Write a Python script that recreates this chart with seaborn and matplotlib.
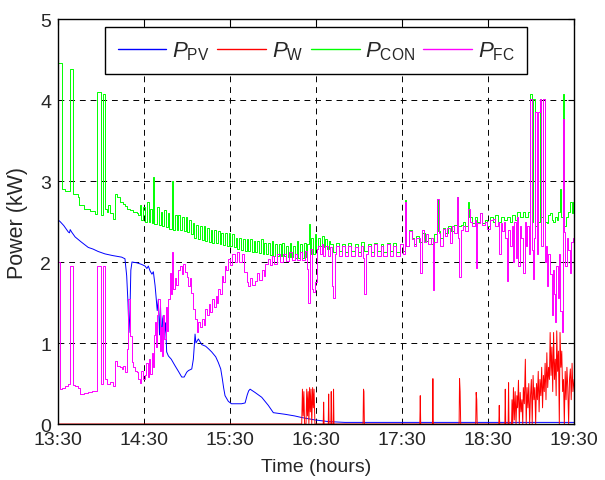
import matplotlib
matplotlib.use("Agg")
import matplotlib.pyplot as plt
import seaborn as sns
import pandas as pd

# time in minutes after 13:30, power in kW
tick_labels = ["13:30", "14:30", "15:30", "16:30", "17:30", "18:30", "19:30"]
tick_minutes = [0, 60, 120, 180, 240, 300, 360]
series_names = [r"$P_{\mathrm{PV}}$", r"$P_{\mathrm{W}}$", r"$P_{\mathrm{CON}}$", r"$P_{\mathrm{FC}}$"]

pv_points = [
    (0, 2.52), (1.4, 2.50), (4, 2.45), (7.2, 2.37), (8, 2.36), (8.5, 2.40), (9.5, 2.37),
    (11.9, 2.31), (16, 2.25), (21.1, 2.18), (24.4, 2.16), (28, 2.13), (32.8, 2.10),
    (38, 2.08), (44.4, 2.06), (46.7, 2.04), (47.9, 1.83), (48.8, 1.5), (49.5, 1.13),
    (50.2, 1.4), (50.8, 1.9), (51.6, 2.0), (55, 1.99), (58.4, 1.97), (60.7, 1.95),
    (62, 1.92), (63, 1.95), (64.2, 1.89), (65.5, 1.85), (66.5, 1.88), (67.7, 1.71),
    (68.5, 1.55), (69.2, 1.40), (70, 1.54), (70.8, 1.10), (71.5, 1.45), (72.3, 1.01),
    (73, 1.3), (73.5, 1.34), (74.2, 1.1), (75, 1.25), (75.8, 0.89), (77, 0.84),
    (79, 0.80), (81.6, 0.72), (84, 0.65), (86.3, 0.58), (88, 0.58), (89.8, 0.64),
    (91, 0.66), (93.3, 0.68), (94.4, 0.80), (95, 0.95), (95.6, 1.11), (96.2, 1.0),
    (97.9, 1.05), (100.3, 0.98), (103, 0.96), (104.9, 0.93), (107.2, 0.89), (110, 0.83),
    (111.8, 0.76), (113.5, 0.68), (114.6, 0.56), (115.5, 0.45), (116.5, 0.35),
    (118.8, 0.28), (121, 0.25), (123.5, 0.25), (128, 0.25), (130.5, 0.26), (132, 0.36),
    (133, 0.41), (134, 0.43), (137.4, 0.39), (142.1, 0.33), (146.7, 0.23), (150.2, 0.14),
    (158.4, 0.12), (165, 0.10), (170, 0.08), (179.3, 0.05), (188.6, 0.03), (200, 0.02),
    (230, 0.02), (260, 0.02), (300, 0.02), (330, 0.02), (360, 0.02),
]

w_points = [
    (0, 0.0), (170, 0.0), (170.5, 0.43), (171, 0.10), (171.5, 0.40), (172, 0.0), (173, 0.0),
    (173.5, 0.43), (174, 0.10), (174.5, 0.40), (175, 0.0), (175.5, 0.45), (176, 0.15),
    (176.5, 0.43), (177, 0.0), (177.6, 0.45), (178.1, 0.20), (178.6, 0.43), (179.2, 0.0),
    (185, 0.0), (185.3, 0.27), (185.6, 0.0), (188.5, 0.0), (188.8, 0.37), (189.1, 0.0),
    (190.3, 0.0), (190.6, 0.40), (190.9, 0.0), (191.9, 0.0), (192.2, 0.43), (192.5, 0.0),
    (212.8, 0.0), (213.1, 0.43), (213.4, 0.40), (213.7, 0.0), (252.4, 0.0), (252.7, 0.35),
    (253, 0.0), (261.2, 0.0), (261.5, 0.56), (261.8, 0.0), (279.8, 0.0), (280.1, 0.56),
    (280.5, 0.40), (280.9, 0.0), (291.4, 0.0), (291.7, 0.39), (292.1, 0.30), (292.4, 0.0),
    (307.5, 0.0), (307.8, 0.23), (308.1, 0.0), (311.7, 0.0), (312, 0.43), (312.3, 0.0),
    (314, 0.0), (314.3, 0.51), (314.6, 0.0), (316.4, 0.0), (316.7, 0.30), (317.2, 0.0),
    (317.7, 0.45), (318.3, 0.05), (318.9, 0.40), (319.5, 0.0), (320.1, 0.35), (320.6, 0.20),
    (321.2, 0.54), (321.8, 0.0), (322.4, 0.39), (323, 0.15), (323.6, 0.30), (324.2, 0.0),
    (324.6, 0.45), (325.3, 0.25), (326, 0.80), (326.6, 0.0), (327.2, 0.45), (327.8, 0.20),
    (328.4, 0.50), (329, 0.0), (329.6, 0.35), (330.2, 0.55), (330.8, 0.0), (331.4, 0.60),
    (332, 0.30), (332.6, 0.45), (333.2, 0.0), (333.8, 0.50), (334.4, 0.30), (335, 0.65),
    (335.6, 0.15), (336.2, 0.55), (336.8, 0.35), (337.4, 0.70), (338, 0.20), (338.6, 0.60),
    (339.2, 0.40), (339.8, 0.75), (340.4, 0.30), (341, 0.88), (341.6, 0.45), (342.2, 0.70),
    (342.8, 0.55), (343.3, 1.13), (343.9, 0.60), (344.5, 0.95), (345.1, 0.40), (345.7, 1.13),
    (346.3, 0.55), (346.9, 0.80), (347.5, 0.35), (347.9, 1.15), (348.5, 0.65), (349.1, 0.90),
    (349.7, 0.0), (350.2, 1.13), (350.8, 0.70), (351.4, 0.90), (352, 0.40), (352.6, 0.55),
    (353.2, 0.0), (353.8, 0.65), (354.4, 0.30), (355, 0.70), (355.6, 0.45), (356.2, 0.0),
    (356.8, 0.55), (357.4, 0.68), (358, 0.30), (358.6, 0.75), (359.2, 0.40), (360, 0.55),
]

con_points = [
    (0, 4.46), (2.6, 2.90), (5, 2.88), (8.4, 4.38), (10.7, 2.84), (14.2, 2.80), (14.7, 2.70),
    (18, 2.66), (22, 2.63), (26, 2.59), (27.4, 4.10), (29.8, 2.58), (31.6, 4.07), (32.8, 2.65),
    (34, 2.62), (35, 2.70), (36, 2.60), (38.6, 2.53), (39.8, 2.84), (41, 2.80), (43.3, 2.74),
    (45, 2.72), (46.7, 2.69), (47.9, 2.66), (50, 2.64), (52.5, 2.62), (54.9, 2.60), (56, 2.58),
    (57, 2.70), (58.2, 2.52), (59.5, 2.68), (60.7, 2.50), (62, 2.74), (63.2, 2.50),
    (64.5, 2.66), (65.7, 2.48), (66.5, 3.05), (67.2, 2.47), (69, 2.68), (70.2, 2.46),
    (71.5, 2.62), (72.7, 2.44), (74, 2.64), (75.2, 2.43), (76.5, 2.60), (77.7, 2.41),
    (79.3, 3.00), (80, 2.40), (81.5, 2.58), (82.7, 2.40), (84, 2.58), (85.2, 2.39),
    (86.5, 2.56), (87.7, 2.38), (89, 2.56), (90.2, 2.37), (91.5, 2.52), (92.7, 2.34),
    (94, 2.48), (95.2, 2.30), (96.5, 2.46), (97.7, 2.28), (99, 2.44), (100.2, 2.27),
    (101.5, 2.44), (102.7, 2.26), (104, 2.42), (105.2, 2.25), (106.5, 2.40), (107.7, 2.24),
    (109, 2.40), (110.2, 2.23), (111.5, 2.38), (112.7, 2.22), (114, 2.36), (115.2, 2.21),
    (116.5, 2.36), (117.7, 2.20), (119, 2.36), (120.2, 2.20), (121.5, 2.34), (122.7, 2.18),
    (124, 2.30), (125.2, 2.16), (126.5, 2.30), (127.7, 2.15), (129, 2.28), (130.2, 2.14),
    (131.5, 2.28), (132.7, 2.13), (134, 2.28), (135.2, 2.12), (136.5, 2.26), (137.7, 2.12),
    (139, 2.26), (140.2, 2.11), (141.5, 2.28), (142.7, 2.10), (144, 2.24), (145.2, 2.10),
    (146.5, 2.24), (147.7, 2.09), (149, 2.26), (150.2, 2.08), (151.5, 2.22), (152.7, 2.08),
    (154, 2.22), (155.2, 2.07), (156.5, 2.24), (157.7, 2.07), (159, 2.20), (160.2, 2.06),
    (161.5, 2.24), (162.7, 2.06), (164, 2.20), (165.2, 2.05), (166.5, 2.26), (167.7, 2.05),
    (169, 2.22), (170.2, 2.05), (171.5, 2.24), (172.7, 2.06), (174, 2.22), (175.1, 2.47),
    (175.7, 2.10), (176.5, 2.30), (177.7, 2.10), (179, 2.35), (180.2, 2.16), (181.5, 2.30),
    (182.7, 2.20), (184, 2.32), (185.2, 2.18), (186.5, 2.28), (187.7, 2.16), (189, 2.26),
    (190, 2.22), (192, 2.12), (194, 2.24), (196, 2.13), (198, 2.22), (200, 2.12),
    (202.5, 2.24), (204.5, 2.13), (207, 2.22), (209, 2.12), (211.5, 2.25), (213.5, 2.13),
    (216, 2.22), (218, 2.12), (220.5, 2.24), (222.5, 2.13), (225, 2.22), (227, 2.12),
    (229.5, 2.24), (231.5, 2.13), (234, 2.23), (236, 2.12), (238.5, 2.22), (240.5, 2.14),
    (242.1, 2.76), (243, 2.20), (244.5, 2.40), (246.8, 2.30), (248.5, 2.22), (250, 2.32),
    (252, 2.25), (254, 2.36), (256, 2.26), (258, 2.30), (260, 2.22), (262, 2.34),
    (264.2, 2.78), (265, 2.38), (266.5, 2.30), (268.8, 2.42), (270, 2.36), (272, 2.44),
    (274, 2.38), (276, 2.46), (278.2, 2.80), (279, 2.44), (281, 2.46), (282.8, 2.50),
    (284, 2.44), (286.3, 2.74), (287, 2.55), (289, 2.48), (291, 2.56), (292.5, 2.50),
    (294.4, 2.60), (296, 2.48), (298, 2.52), (299.1, 2.45), (301, 2.56), (303.7, 2.50),
    (305, 2.58), (307, 2.50), (309, 2.55), (311, 2.52), (313, 2.56), (315, 2.50),
    (317, 2.58), (319, 2.52), (320.1, 2.62), (322, 2.55), (324.6, 2.62), (326, 2.55),
    (328, 2.62), (329.3, 4.07), (330.5, 2.50), (331.6, 4.01), (332.8, 2.45), (334, 2.50),
    (336.3, 4.01), (337.2, 2.55), (338.6, 4.01), (339.5, 2.50), (341, 2.48), (342, 2.58),
    (343.3, 2.61), (344.4, 2.52), (345.6, 2.49), (346.8, 2.55), (347.9, 2.52), (349, 2.62),
    (350.2, 2.90), (351, 2.55), (352.5, 4.07), (353.2, 2.45), (354.5, 2.55), (356, 2.62),
    (357.2, 2.74), (358.4, 2.60), (359.5, 2.74), (360, 2.74),
]

fc_points = [
    (0, 2.00), (1.4, 0.43), (3, 0.45), (5, 0.47), (7, 0.49), (8.4, 1.95), (10.7, 0.48),
    (12, 0.47), (14.2, 0.45), (15.3, 0.37), (18, 0.38), (21.1, 0.39), (24, 0.41), (27, 0.43),
    (27.4, 1.95), (29.8, 0.50), (31.6, 1.95), (32.8, 0.56), (34, 0.50), (36, 0.52),
    (38.6, 0.47), (39.8, 0.78), (41, 0.72), (43.3, 0.70), (44.4, 0.68), (45.5, 0.72),
    (46.7, 0.64), (47.9, 0.93), (49, 1.54), (50.2, 1.09), (51.4, 0.76), (52.5, 0.70),
    (54, 0.66), (54.9, 0.64), (56, 0.55), (57.2, 0.51), (58, 0.65), (59, 0.55), (60.7, 0.60),
    (61.5, 0.75), (62.5, 0.58), (63.5, 0.80), (64.2, 0.62), (65.4, 0.88), (66, 0.70),
    (67, 1.10), (67.7, 1.26), (68.5, 0.95), (69.2, 1.35), (70, 1.54), (70.8, 0.90),
    (71.5, 1.20), (72.3, 0.84), (73, 1.35), (74, 1.05), (75, 1.45), (76, 1.15), (77, 1.54),
    (78.1, 1.87), (79, 1.60), (79.7, 2.12), (80.4, 1.67), (81.5, 1.80), (82.5, 1.72),
    (83.9, 1.90), (85.1, 1.95), (86.5, 1.85), (87.5, 1.98), (88.5, 1.88), (90, 1.82),
    (90.9, 1.71), (92, 1.80), (93, 1.62), (94.4, 1.42), (95.6, 1.30), (96.8, 1.13),
    (97.9, 1.26), (99, 1.20), (100.3, 1.30), (101.5, 1.22), (102.6, 1.42), (104, 1.34),
    (105, 1.48), (106, 1.38), (107.2, 1.54), (108.5, 1.45), (110, 1.58), (111, 1.50),
    (111.8, 1.67), (113, 1.60), (114.2, 1.83), (115, 1.75), (116.5, 1.95), (117.5, 1.90),
    (118.8, 2.04), (120, 1.96), (121.5, 2.10), (123.5, 2.00), (125, 2.12), (126.5, 2.00),
    (128, 2.10), (129.5, 1.88), (131.6, 1.75), (132.8, 1.71), (134, 1.80), (135.5, 1.72),
    (137.4, 1.77), (138.5, 1.86), (140, 1.78), (142.1, 1.90), (143.5, 1.83), (144.5, 1.97),
    (146.7, 2.04), (148, 1.96), (149.5, 2.08), (151, 1.98), (153, 2.10), (155, 2.00),
    (157, 2.10), (159, 2.01), (161, 2.12), (163, 2.02), (165, 2.10), (167, 2.02),
    (169, 2.12), (170.5, 2.02), (172, 2.14), (173.5, 1.91), (174.6, 1.50), (175.8, 2.16),
    (177, 1.67), (178.1, 1.63), (179.3, 1.75), (180.5, 2.16), (181.6, 2.20), (182.8, 2.10),
    (184, 2.22), (185.1, 2.08), (186.3, 2.20), (188, 2.08), (189.8, 2.18), (191, 1.71),
    (192.1, 1.56), (193, 2.10), (194, 2.20), (196, 2.08), (198, 2.20), (200, 2.08),
    (202.5, 2.20), (204.5, 2.08), (207, 2.18), (209, 2.08), (211.5, 2.20), (213, 2.05),
    (213.7, 1.60), (214.5, 2.10), (216, 2.20), (218, 2.08), (220.5, 2.22), (222.5, 2.08),
    (225, 2.20), (227, 2.08), (229.5, 2.22), (231.5, 2.08), (234, 2.20), (236, 2.08),
    (238.5, 2.22), (240.5, 2.10), (242.1, 2.74), (243, 2.20), (244.5, 2.38), (246.8, 2.28),
    (248.5, 2.20), (250, 2.30), (252.6, 1.87), (253.8, 2.39), (255, 2.25), (256.5, 2.34),
    (258, 2.22), (260, 2.30), (261.4, 1.65), (262.5, 2.25), (264.6, 2.78), (265.5, 2.36),
    (266.5, 2.20), (268.8, 2.41), (270, 2.32), (271.5, 2.42), (273.5, 2.24), (275, 2.44),
    (276.5, 2.36), (278.2, 2.80), (279.3, 2.30), (280, 1.81), (281, 2.40), (282.8, 2.45),
    (284, 2.38), (286.3, 2.65), (287.5, 2.50), (289, 2.44), (291, 2.52), (291.6, 1.93),
    (292.5, 2.48), (294.4, 2.61), (296, 2.46), (298, 2.50), (299.1, 2.41), (301, 2.52),
    (303.7, 2.53), (305, 2.45), (307, 2.50), (307.9, 2.10), (308.8, 2.48), (310, 2.38),
    (311, 2.50), (312, 2.30), (313.5, 1.77), (314.2, 2.40), (315.5, 2.20), (316.6, 2.45),
    (317.7, 2.00), (318.4, 2.50), (319.2, 2.05), (320.1, 2.55), (321, 1.95), (322, 2.45),
    (323.3, 2.30), (324.6, 1.87), (325.5, 2.50), (326.5, 2.20), (327.5, 2.45), (328.5, 2.10),
    (329.3, 4.01), (330.5, 2.15), (331.6, 1.79), (332.2, 2.30), (333, 3.85), (334, 2.10),
    (335.1, 3.85), (336.3, 4.01), (337.2, 2.20), (338.6, 4.01), (339.5, 2.00), (340.2, 2.20),
    (341, 1.71), (342, 2.10), (343.3, 1.85), (344.4, 1.34), (345.2, 1.90), (346, 1.60),
    (346.8, 1.26), (347.5, 1.95), (348.5, 1.55), (349.3, 2.10), (350.2, 1.40), (351.4, 1.13),
    (352.5, 3.77), (353.2, 2.37), (354, 1.95), (355, 2.30), (356, 2.15), (357.2, 1.87),
    (358, 2.25), (359, 2.30), (360, 2.30),
]

colors = ["#0000ff", "#ff0000", "#00ff00", "#ff00ff"]

sns.set_style("white")
plt.rcParams["font.family"] = ["Liberation Sans", "DejaVu Sans"]
plt.rcParams["mathtext.fontset"] = "custom"
plt.rcParams["mathtext.rm"] = "Liberation Sans"
plt.rcParams["mathtext.it"] = "Liberation Sans:italic"

fig = plt.figure(figsize=(6.05, 4.81), dpi=100)
ax = fig.add_axes([0.0959, 0.1164, 0.853, 0.842])

all_points = [pv_points, w_points, con_points, fc_points]
styles = ["default", "default", "steps-post", "steps-post"]
for pts, name, col, ds in zip(all_points, series_names, colors, styles):
    df = pd.DataFrame(pts, columns=["t", "p"])
    sns.lineplot(data=df, x="t", y="p", ax=ax, color=col, lw=0.7, label=name,
                 estimator=None, sort=False, drawstyle=ds)

ax.set_xlim(0, 360)
ax.set_ylim(0, 5)
ax.set_xticks(tick_minutes)
ax.set_xticklabels(tick_labels)
ax.set_yticks([0, 1, 2, 3, 4, 5])
ax.tick_params(axis="both", direction="in", length=4, labelsize=14, top=True, right=True,
               color="black", pad=5)
ax.grid(True, color="black", linestyle=(0, (6, 5)), linewidth=0.7)
for s in ax.spines.values():
    s.set_color("black")
    s.set_linewidth(1.0)
ax.set_xlabel("Time (hours)", fontsize=14, labelpad=7)
ax.set_ylabel("Power (kW)", fontsize=15.5, labelpad=9)

leg = ax.legend(loc="upper center", bbox_to_anchor=(0.5, 0.98), ncol=4, fontsize=16,
                frameon=True, fancybox=False, edgecolor="black", framealpha=1,
                handlelength=2.2, columnspacing=0.35, handletextpad=0.25, borderpad=0.55,
                borderaxespad=0)
leg.get_frame().set_linewidth(1.0)
for line in leg.get_lines():
    line.set_linewidth(1.0)

fig.savefig("out.png", dpi=100)
